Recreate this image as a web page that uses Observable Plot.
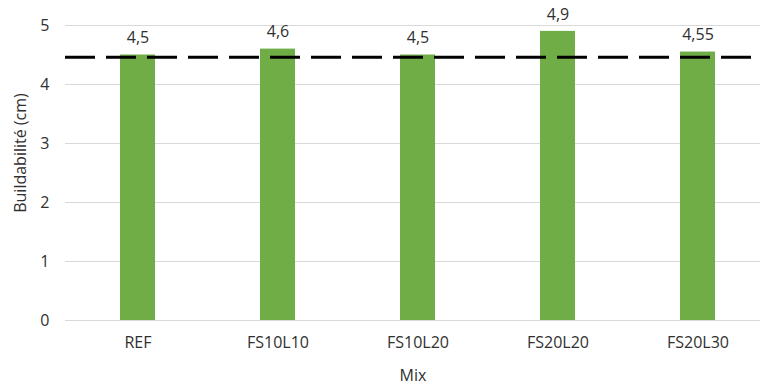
<!DOCTYPE html>
<html>
<head>
<meta charset="utf-8">
<script src="https://cdn.jsdelivr.net/npm/d3@7"></script>
<script src="https://cdn.jsdelivr.net/npm/@observablehq/plot@0.6"></script>
<style>
  html, body { margin: 0; padding: 0; background: #fff; }
</style>
</head>
<body>
<div id="chart"></div>
<script>
const categories = ["REF", "FS10L10", "FS10L20", "FS20L20", "FS20L30"];
const values = [4.5, 4.6, 4.5, 4.9, 4.55];
const valueLabels = ["4,5", "4,6", "4,5", "4,9", "4,55"];
const referenceLevel = 4.46;
const yTicks = [0, 1, 2, 3, 4, 5];
const yTitle = ["Buildabilité (cm)"];

const data = categories.map((c, i) => ({mix: c, value: values[i], label: valueLabels[i]}));

const font = "'Open Sans', sans-serif";
const textColor = "#303030";

const chart = Plot.plot({
  width: 760,
  height: 387,
  marginTop: 25,
  marginBottom: 67,
  marginLeft: 65,
  marginRight: 0,
  style: {fontFamily: font, fontSize: "16px", color: textColor, background: "#fff"},
  x: {domain: categories, range: [65.3, 769], paddingInner: 0.75, paddingOuter: 0.375},
  y: {domain: [0, 5]},
  marks: [
    Plot.ruleY(yTicks, {stroke: "#D9D9D9", strokeWidth: 1}),
    Plot.barY(data, {x: "mix", y: "value", fill: "#70AD47"}),
    Plot.ruleY([referenceLevel], {stroke: "#000", strokeWidth: 3, strokeDasharray: "30,11"}),
    Plot.text(data, {x: "mix", y: "value", text: "label", dy: -17, fill: textColor, fontSize: 16}),
    Plot.axisX({tickSize: 0, tickPadding: 16, fontSize: 16, label: "Mix", labelAnchor: "center", labelArrow: "none", labelOffset: 60, color: textColor}),
    Plot.axisY(yTicks, {tickSize: 0, tickPadding: 16, fontSize: 16, tickFormat: d => String(d), label: null, color: textColor}),
    Plot.text(yTitle, {frameAnchor: "left", textAnchor: "middle", dx: -45, dy: -20, rotate: -90, fontSize: 16, fill: textColor})
  ]
});
document.getElementById("chart").appendChild(chart);
</script>
</body>
</html>
